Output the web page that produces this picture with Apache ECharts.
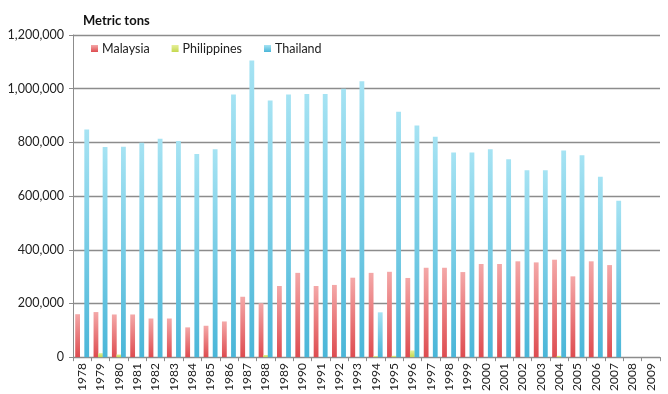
<!DOCTYPE html>
<html>
<head>
<meta charset="utf-8">
<script src="https://cdn.jsdelivr.net/npm/echarts@6/dist/echarts.min.js"></script>
<style>
  html, body { margin: 0; padding: 0; background: #fff; }
  #chart { width: 668px; height: 394px; }
</style>
</head>
<body>
<div id="chart"></div>
<script>
// Annual production, metric tons
const years = ['1978','1979','1980','1981','1982','1983','1984','1985','1986','1987',
  '1988','1989','1990','1991','1992','1993','1994','1995','1996','1997','1998','1999',
  '2000','2001','2002','2003','2004','2005','2006','2007','2008','2009'];

const malaysia = [160000,168000,159000,159000,144000,144000,111000,117000,133000,225000,
  201000,265000,314000,265000,269000,296000,314000,318000,295000,333000,333000,317000,
  347000,347000,357000,353000,363000,301000,357000,343000,null,null];

const philippines = [0,15000,10000,0,0,0,0,0,0,0,
  8000,0,0,0,0,0,4000,5000,25000,0,0,0,
  0,0,0,0,5000,0,0,0,null,null];

const thailand = [848000,783000,784000,799000,814000,805000,757000,774000,978000,1105000,
  956000,978000,980000,980000,1000000,1028000,167000,914000,863000,821000,762000,762000,
  774000,737000,696000,696000,770000,752000,672000,583000,null,null];

const yTicks = [0, 200000, 400000, 600000, 800000, 1000000, 1200000];

function grad(top, bottom) {
  return new echarts.graphic.LinearGradient(0, 0, 0, 1, [
    { offset: 0, color: top },
    { offset: 1, color: bottom }
  ]);
}

const chart = echarts.init(document.getElementById('chart'));
const font = 'Lato, "Open Sans", sans-serif';

chart.setOption({
  animation: false,
  textStyle: { fontFamily: font },
  title: {
    text: 'Metric tons',
    left: 78,
    top: 9,
    textStyle: { fontSize: 13, fontWeight: 'bold', color: '#111', fontFamily: font }
  },
  legend: {
    top: 37,
    left: 86,
    itemWidth: 7,
    itemHeight: 7,
    itemGap: 22,
    icon: 'rect',
    textStyle: { fontSize: 12.5, color: '#222', fontFamily: font, padding: [0, 0, 0, -1] },
    data: ['Malaysia', 'Philippines', 'Thailand']
  },
  grid: { left: 73, right: 8, top: 35, bottom: 35 },
  xAxis: {
    type: 'category',
    data: years,
    axisLine: { lineStyle: { color: '#8c8c8c', width: 1 } },
    axisTick: { show: true, length: 4, lineStyle: { color: '#8c8c8c' } },
    axisLabel: {
      rotate: 90,
      interval: 0,
      margin: 6,
      fontSize: 12,
      color: '#222',
      fontFamily: font
    }
  },
  yAxis: {
    type: 'value',
    min: 0,
    max: yTicks[yTicks.length - 1],
    interval: yTicks[1] - yTicks[0],
    axisLine: { show: true, lineStyle: { color: '#8c8c8c', width: 1 } },
    axisTick: { show: true, length: 4, lineStyle: { color: '#8c8c8c' } },
    splitLine: { lineStyle: { color: '#8c8c8c', width: 1.3 } },
    axisLabel: {
      fontSize: 12.5,
      color: '#222',
      margin: 9,
      fontFamily: font,
      formatter: v => v.toLocaleString('en-US')
    }
  },
  series: [
    {
      name: 'Malaysia',
      type: 'bar',
      data: malaysia,
      barWidth: 4.8,
      barGap: '-5%',
      itemStyle: { color: grad('#f4a8a8', '#de4c50') }
    },
    {
      name: 'Philippines',
      type: 'bar',
      data: philippines,
      barWidth: 4.8,
      barGap: '-5%',
      itemStyle: { color: grad('#e6ef9a', '#c4d84e') }
    },
    {
      name: 'Thailand',
      type: 'bar',
      data: thailand,
      barWidth: 4.8,
      barGap: '-5%',
      itemStyle: { color: grad('#a6e3f3', '#4ab6d8') }
    }
  ]
});
</script>
</body>
</html>
